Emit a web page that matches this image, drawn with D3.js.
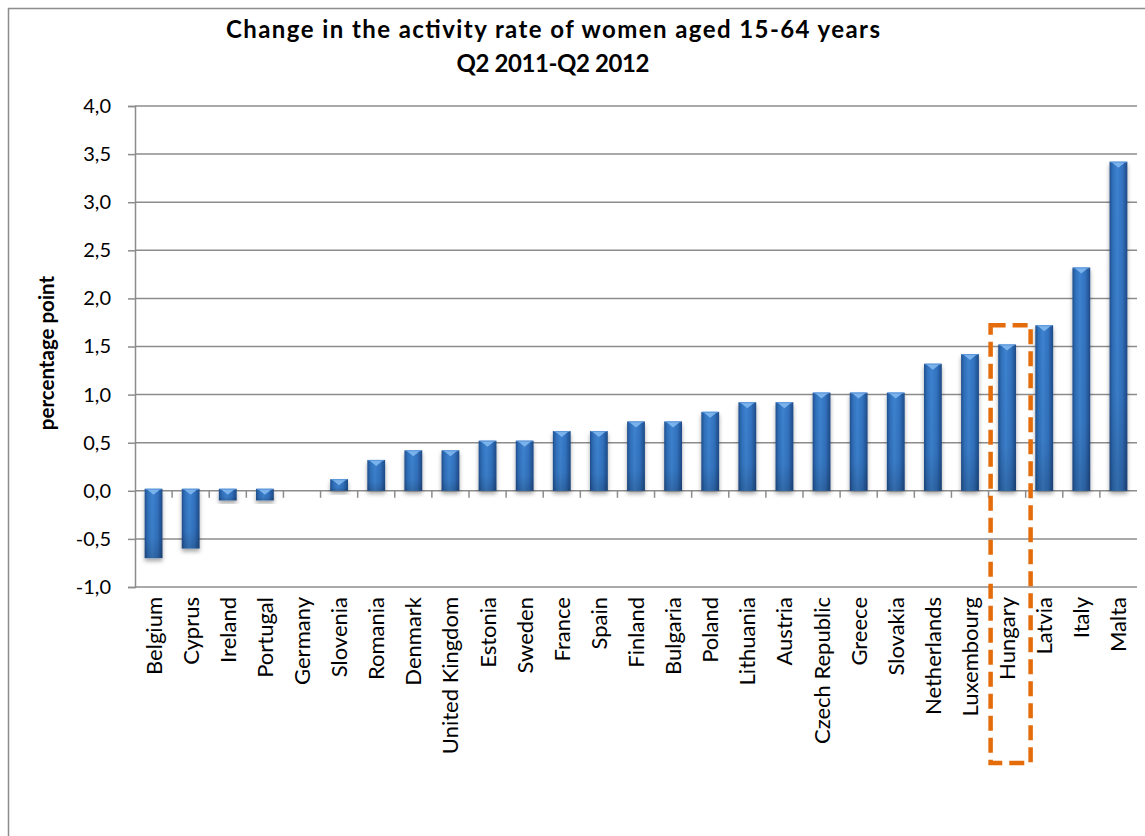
<!DOCTYPE html>
<html>
<head>
<meta charset="utf-8">
<script src="https://cdn.jsdelivr.net/npm/d3@7"></script>
<style>
  html, body { margin: 0; padding: 0; background: #fff; }
  svg { display: block; }
</style>
</head>
<body>
<svg id="chart" width="1145" height="836"></svg>
<script>
// Change in activity rate of women aged 15-64, Q2 2011 to Q2 2012 (percentage points)
const countries = ["Belgium", "Cyprus", "Ireland", "Portugal", "Germany", "Slovenia", "Romania",
  "Denmark", "United Kingdom", "Estonia", "Sweden", "France", "Spain", "Finland", "Bulgaria",
  "Poland", "Lithuania", "Austria", "Czech Republic", "Greece", "Slovakia", "Netherlands",
  "Luxembourg", "Hungary", "Latvia", "Italy", "Malta"];
const change = [-0.7, -0.6, -0.1, -0.1, 0.0, 0.1, 0.3, 0.4, 0.4, 0.5, 0.5, 0.6, 0.6, 0.7, 0.7,
  0.8, 0.9, 0.9, 1.0, 1.0, 1.0, 1.3, 1.4, 1.5, 1.7, 2.3, 3.4];
const yTicks = [-1.0, -0.5, 0.0, 0.5, 1.0, 1.5, 2.0, 2.5, 3.0, 3.5, 4.0];
const titleLines = ["Change in the activity rate of women aged 15-64 years", "Q2 2011-Q2 2012"];
const titleWidths = [654, 193];
const yTitle = "percentage point";
const highlighted = "Hungary";

const data = countries.map((c, i) => ({ country: c, value: change[i] }));

const svg = d3.select("#chart");
const margin = { left: 135, right: 8, top: 106, bottom: 249 };
const W = 1145, H = 836;
const font = "Lato, 'Open Sans', sans-serif";

const x = d3.scaleBand()
  .domain(countries)
  .range([margin.left, W - margin.right])
  .paddingInner(0.52)
  .paddingOuter(0.26);

const y = d3.scaleLinear()
  .domain([-1, 4])
  .range([H - margin.bottom, margin.top]);

const fmt = d => d.toFixed(1).replace(".", ",");
const grey = "#8c8c8c";

// chart frame
svg.append("rect")
  .attr("x", 8.5).attr("y", 8.5)
  .attr("width", W + 20).attr("height", H + 20)
  .attr("fill", "none").attr("stroke", grey).attr("stroke-width", 1.5);

// definitions: bar shading and soft shadow
const defs = svg.append("defs");
const grad = defs.append("linearGradient").attr("id", "barGrad")
  .attr("x1", "0%").attr("x2", "100%").attr("y1", "0%").attr("y2", "0%");
[["0%", "#21508f"], ["18%", "#3070bb"], ["42%", "#3d82cf"], ["72%", "#3272bf"], ["100%", "#1e4a86"]]
  .forEach(([o, c]) => grad.append("stop").attr("offset", o).attr("stop-color", c));
const shade = defs.append("linearGradient").attr("id", "barShade")
  .attr("x1", "0%").attr("x2", "0%").attr("y1", "0%").attr("y2", "100%");
shade.append("stop").attr("offset", "0%").attr("stop-color", "#000").attr("stop-opacity", 0);
shade.append("stop").attr("offset", "70%").attr("stop-color", "#000").attr("stop-opacity", 0.04);
shade.append("stop").attr("offset", "100%").attr("stop-color", "#000").attr("stop-opacity", 0.18);
const f = defs.append("filter").attr("id", "barShadow")
  .attr("x", "-50%").attr("y", "-20%").attr("width", "200%").attr("height", "150%");
f.append("feDropShadow").attr("dx", 0).attr("dy", 3).attr("stdDeviation", 2)
  .attr("flood-color", "#000").attr("flood-opacity", 0.35);

// horizontal gridlines
svg.append("g")
  .selectAll("line")
  .data(yTicks.filter(t => t !== 0 && t !== -1))
  .join("line")
  .attr("x1", margin.left).attr("x2", W - margin.right)
  .attr("y1", d => y(d)).attr("y2", d => y(d))
  .attr("stroke", grey).attr("stroke-width", 1.5);

// bottom line at -1
svg.append("line")
  .attr("x1", margin.left).attr("x2", W - margin.right)
  .attr("y1", y(-1)).attr("y2", y(-1))
  .attr("stroke", grey).attr("stroke-width", 1.5);

// y axis
const yAxis = svg.append("g")
  .attr("transform", `translate(${margin.left},0)`)
  .call(d3.axisLeft(y).tickValues(yTicks).tickFormat(fmt).tickSize(7).tickPadding(17));
yAxis.select(".domain").attr("stroke", grey).attr("stroke-width", 1.5);
yAxis.selectAll(".tick line").attr("stroke", grey).attr("stroke-width", 1.5);
yAxis.selectAll(".tick text")
  .attr("font-family", font)
  .attr("font-size", 20).attr("fill", "#000");

// x axis at zero with ticks between categories (drawn beneath the bars)
const step = x.step();
const barW = x.bandwidth();
const boundaries = countries.map(c => x(c) + barW + (step - barW) / 2);
svg.append("line")
  .attr("x1", margin.left).attr("x2", W - margin.right)
  .attr("y1", y(0)).attr("y2", y(0))
  .attr("stroke", grey).attr("stroke-width", 1.5);
svg.append("g").selectAll("line")
  .data(boundaries.slice(0, -1))
  .join("line")
  .attr("x1", d => d).attr("x2", d => d)
  .attr("y1", y(0)).attr("y2", y(0) + 7)
  .attr("stroke", grey).attr("stroke-width", 1.5);

// bars
const bars = svg.append("g").attr("class", "bars");
const bar = bars.selectAll("g").data(data.filter(d => d.value !== 0)).join("g");
const barTop = d => y(Math.max(0, d.value)) - 2;
const barHeight = d => Math.abs(y(d.value) - y(0)) + 2;
bar.append("rect")
  .attr("x", d => x(d.country))
  .attr("y", barTop)
  .attr("width", barW)
  .attr("height", barHeight)
  .attr("fill", "url(#barGrad)")
  .attr("filter", "url(#barShadow)");
bar.append("rect")
  .attr("x", d => x(d.country))
  .attr("y", barTop)
  .attr("width", barW)
  .attr("height", barHeight)
  .attr("fill", "url(#barShade)");
// bevelled top highlight
bar.append("path")
  .attr("d", d => {
    const x0 = x(d.country), t = barTop(d);
    return `M${x0 + 1.5},${t} L${x0 + barW - 1.5},${t} L${x0 + barW / 2},${t + 6} Z`;
  })
  .attr("fill", "#82b8f0").attr("opacity", 0.9);
bar.append("line")
  .attr("x1", d => x(d.country) + 1).attr("x2", d => x(d.country) + barW - 1)
  .attr("y1", d => barTop(d) + 0.5).attr("y2", d => barTop(d) + 0.5)
  .attr("stroke", "#5b96dc").attr("stroke-width", 1);

// category labels
svg.append("g").selectAll("text")
  .data(countries)
  .join("text")
  .attr("transform", c => `translate(${x(c) + barW / 2 + 8},${y(-1) + 10}) rotate(-90)`)
  .attr("text-anchor", "end")
  .attr("font-family", font)
  .attr("font-size", 22)
  .attr("fill", "#000")
  .text(c => c);

// highlight frame
const hx = x(highlighted) + barW / 2;
svg.append("rect")
  .attr("x", hx - 16.5).attr("y", y(1.72))
  .attr("width", 40).attr("height", 763 - y(1.72))
  .attr("fill", "none")
  .attr("stroke", "#e46c0a").attr("stroke-width", 4.5)
  .attr("stroke-dasharray", "15,7");

// title
svg.append("g").selectAll("text")
  .data(titleLines)
  .join("text")
  .attr("x", 553).attr("y", (d, i) => 38 + i * 34)
  .attr("text-anchor", "middle")
  .attr("font-family", font)
  .attr("font-weight", "bold").attr("font-size", 24)
  .attr("textLength", (d, i) => titleWidths[i])
  .attr("lengthAdjust", "spacing")
  .text(d => d);

// y axis title
svg.append("text")
  .attr("transform", `translate(54,353) rotate(-90)`)
  .attr("text-anchor", "middle")
  .attr("font-family", font)
  .attr("font-weight", "bold").attr("font-size", 20.5)
  .text(yTitle);
</script>
</body>
</html>
